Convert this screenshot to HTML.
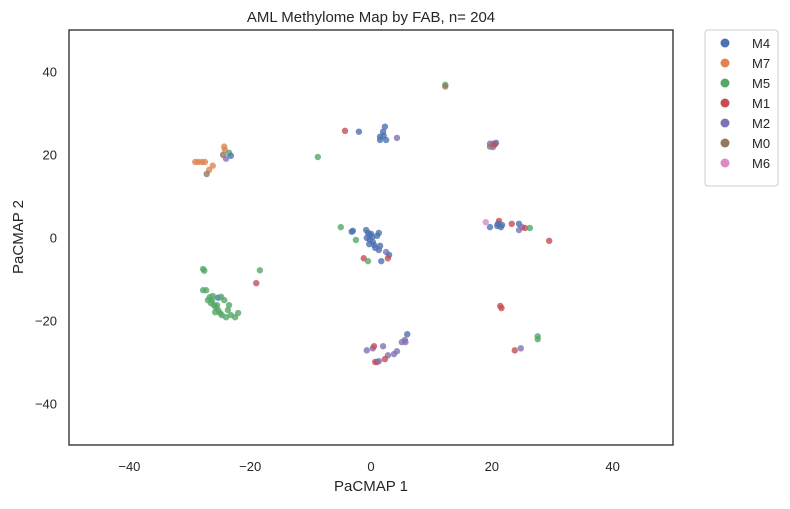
<!DOCTYPE html>
<html><head><meta charset="utf-8"><style>
body{margin:0;background:#fff;font-family:"Liberation Sans","DejaVu Sans",sans-serif;}
svg text{font-family:"Liberation Sans","DejaVu Sans",sans-serif;fill:#262626;}
</style></head><body>
<svg id="chart" width="790" height="504">
<text x="371" y="22" text-anchor="middle" font-size="15">AML Methylome Map by FAB, n= 204</text>
<g id="ticks"></g>
<g id="points"></g>
<rect x="69" y="30" width="604" height="415" fill="none" stroke="#262626" stroke-width="1.3"/>
<text x="371" y="491" text-anchor="middle" font-size="15">PaCMAP 1</text>
<text x="23" y="237" text-anchor="middle" font-size="15" transform="rotate(-90 23 237)">PaCMAP 2</text>
<g id="legend">
<rect x="705" y="30" width="73" height="156" rx="3" fill="#fff" stroke="#ccc"/>
</g>
</svg>
<script>
const categories=["M4","M7","M5","M1","M2","M0","M6"];
const colors=["#4c72b0","#dd8452","#55a868","#c44e52","#8172b3","#937860","#da8bc3"];
const xTicks=[-40,-20,0,20,40];
const yTicks=[-40,-20,0,20,40];
const pointX=[-29.1,-28.6,-28,-27.5,-26.2,-26.8,-27.2,-24.3,-24.2,-24.5,-23.5,-23.2,-24,
-27.8,-27.6,-18.4,-19,-27.8,-27.3,-26.7,-27,-26.2,-25.3,-24.8,-24.3,-26,-25.7,-25.3,-25,-24.7,-23.7,-23.5,-23.2,-22.5,-22,-24,-25.5,-26.3,-26.5,-25.8,
-5,-3,-3.2,-2.5,-0.8,-0.5,-0.2,0.2,-0.7,-0.2,0.3,-0.3,0.5,0.7,1.3,1,1.5,0,1.3,2.5,3,2.8,-1.2,-0.5,1.7,
-4.3,-2,2.3,2,1.5,2.1,1.5,2.5,4.3,-8.8,12.3,12.3,
19.7,20.2,20.7,19.7,20.2,20.5,
19,19.7,20.9,21.2,21,21.7,21.5,23.3,24.5,25,24.5,25.5,26.3,29.5,
21.4,21.6,27.6,27.6,23.8,24.8,
6,5.6,5.7,5.1,4.3,3.8,2.8,2.3,1,0.7,1.3,-0.7,0.3,0.5,2];
const pointY=[18.2,18.2,18.2,18.2,17.3,16.3,15.3,21.9,21.1,19.9,20.4,19.7,19,
-7.6,-8,-7.9,-11,-12.7,-12.7,-14.4,-15.1,-14.1,-14.5,-14.3,-15.1,-16.3,-16.8,-17.5,-18.2,-18.7,-17.5,-16.3,-18.7,-19.2,-18.2,-19.2,-16.3,-15.1,-15.8,-18,
2.5,1.6,1.4,-0.6,1.8,1.1,0.6,0.1,-0.1,-0.6,-1.1,-1.6,-1.8,-2.5,1.1,0.4,-2,0.9,-3,-3.5,-4.2,-5,-5,-5.7,-5.7,
25.7,25.5,26.7,25.5,24.3,24.5,23.5,23.5,24,19.4,36.8,36.4,
22.6,22.6,22.8,21.9,21.8,22.4,
3.7,2.5,2.8,4,3.3,3,2.5,3.3,3.3,2.5,1.8,2.3,2.3,-0.8,
-16.5,-17,-23.8,-24.5,-27.2,-26.7,
-23.3,-24.7,-25.2,-25.2,-27.4,-28.1,-28.4,-29.3,-30,-30,-29.8,-27.2,-26.7,-26.2,-26.2];
const pointCat=[1,1,1,1,1,1,5,1,1,5,2,0,4,
2,2,2,3,2,2,2,2,2,0,2,2,2,2,2,2,2,2,2,2,2,2,2,2,2,2,2,
2,0,0,2,0,0,0,0,0,0,0,0,0,0,0,0,0,0,0,4,0,3,3,2,0,
3,0,0,0,0,0,0,0,4,2,2,5,
4,4,0,5,4,3,
6,0,0,3,0,0,0,3,0,4,4,3,2,3,
3,3,2,2,3,4,
0,4,4,4,4,4,4,3,3,3,4,4,4,3,4];
const L=69,R=673,T=30,B=445;
const sx=v=>L+(v+50)/100*(R-L);
const sy=v=>B-(v+50)/100*(B-T);
const NS="http://www.w3.org/2000/svg";
const tg=document.getElementById('ticks');
xTicks.forEach(t=>{const e=document.createElementNS(NS,'text');
e.setAttribute('x',sx(t));e.setAttribute('y',471);e.setAttribute('text-anchor','middle');e.setAttribute('font-size','13');


e.textContent=t<0?'\u2212'+(-t):t;tg.appendChild(e);});
yTicks.forEach(t=>{const e=document.createElementNS(NS,'text');
e.setAttribute('x',57);e.setAttribute('y',sy(t)+5);e.setAttribute('text-anchor','end');e.setAttribute('font-size','13');


e.textContent=t<0?'\u2212'+(-t):t;tg.appendChild(e);});
const pg=document.getElementById('points');
pointX.forEach((x,i)=>{const c=document.createElementNS(NS,'circle');
c.setAttribute('cx',sx(x));c.setAttribute('cy',sy(pointY[i]));c.setAttribute('r',3.2);
c.setAttribute('fill',colors[pointCat[i]]);c.setAttribute('fill-opacity','0.8');


pg.appendChild(c);});
const lg=document.getElementById('legend');
categories.forEach((k,i)=>{const y=43+i*20;
const c=document.createElementNS(NS,'circle');
c.setAttribute('cx',725);c.setAttribute('cy',y);c.setAttribute('r',4.5);c.setAttribute('fill',colors[i]);


lg.appendChild(c);
const t=document.createElementNS(NS,'text');
t.setAttribute('x',752);t.setAttribute('y',y+5);t.setAttribute('font-size','13');


t.textContent=k;lg.appendChild(t);});
</script>
</body></html>
